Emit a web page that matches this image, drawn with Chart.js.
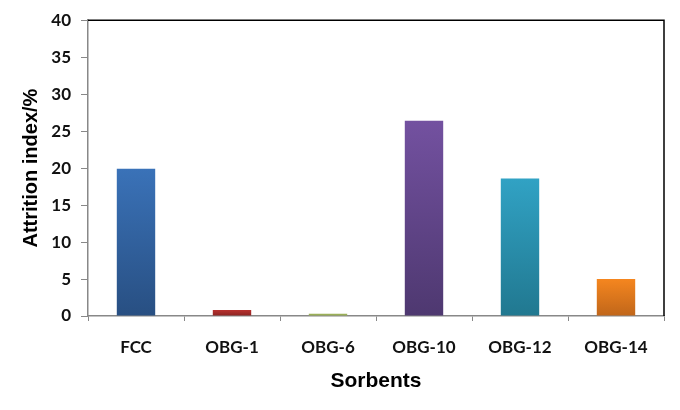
<!DOCTYPE html>
<html>
<head>
<meta charset="utf-8">
<script src="https://cdn.jsdelivr.net/npm/chart.js@4/dist/chart.umd.min.js"></script>
<style>
  html, body { margin: 0; padding: 0; background: #fff; }
  #wrap { width: 680px; height: 410px; }
</style>
</head>
<body>
<div id="wrap"><canvas id="c" width="680" height="410"></canvas></div>
<script>
const sorbents = ["FCC", "OBG-1", "OBG-6", "OBG-10", "OBG-12", "OBG-14"];
const attrition = [19.9, 0.8, 0.3, 26.4, 18.6, 5.0];
const yTicks = [0, 5, 10, 15, 20, 25, 30, 35, 40];
// [top colour, bottom colour] per bar
const barTop = ["#3a72b8", "#b8312f", "#9bb058", "#7351a0", "#31a2c4", "#f5861f"];
const barBottom = ["#284f82", "#8a2322", "#7a8c40", "#4e3870", "#217890", "#c0661a"];

function barFill(ctx) {
  const chart = ctx.chart;
  const area = chart.chartArea;
  const i = ctx.dataIndex;
  if (!area || i === undefined) return barTop[i || 0];
  const y = chart.scales.y;
  const top = y.getPixelForValue(attrition[i]);
  const bottom = y.getPixelForValue(0);
  if (bottom - top < 3) return barTop[i];
  const g = chart.ctx.createLinearGradient(0, top, 0, bottom);
  g.addColorStop(0, barTop[i]);
  g.addColorStop(1, barBottom[i]);
  return g;
}

const frame = {
  id: "frame",
  afterDraw(chart) {
    const { ctx, chartArea: a } = chart;
    ctx.save();
    ctx.strokeStyle = "#000";
    ctx.lineWidth = 1.5;
    ctx.beginPath();
    ctx.moveTo(a.left, a.top);
    ctx.lineTo(a.right, a.top);
    ctx.lineTo(a.right, a.bottom);
    ctx.stroke();
    ctx.restore();
  }
};

new Chart(document.getElementById("c"), {
  type: "bar",
  data: {
    labels: sorbents,
    datasets: [{
      label: "Attrition index",
      data: attrition,
      backgroundColor: barFill,
      barPercentage: 0.8,
      categoryPercentage: 0.5
    }]
  },
  plugins: [frame],
  options: {
    responsive: false,
    animation: false,
    layout: { padding: { top: 19, right: 16, left: 0, bottom: 12 } },
    plugins: { legend: { display: false }, tooltip: { enabled: false } },
    scales: {
      x: {
        grid: { display: true, drawOnChartArea: false, drawTicks: true, tickLength: 5, color: "#888" },
        border: { color: "#888", width: 1.5 },
        ticks: { color: "#111", padding: 16, font: { family: "Lato", weight: "bold", size: 17 } },
        title: { display: true, text: "Sorbents", color: "#000", padding: { top: 8 },
                 font: { family: "Liberation Sans", weight: "bold", size: 21 } },
        afterFit(s) { s.height = 82; }
      },
      y: {
        min: 0, max: 40,
        afterBuildTicks(s) { s.ticks = yTicks.map((v) => ({ value: v })); },
        grid: { display: true, drawOnChartArea: false, drawTicks: true, tickLength: 7, color: "#888" },
        border: { color: "#888", width: 1.5 },
        ticks: { color: "#111", padding: 10, font: { family: "Lato", weight: "bold", size: 17 } },
        title: { display: true, text: "Attrition index/%", color: "#000", padding: { top: 19, bottom: 0 },
                 font: { family: "Liberation Sans", weight: "bold", size: 20 } },
        afterFit(s) { s.width = 88; }
      }
    }
  }
});
</script>
</body>
</html>
